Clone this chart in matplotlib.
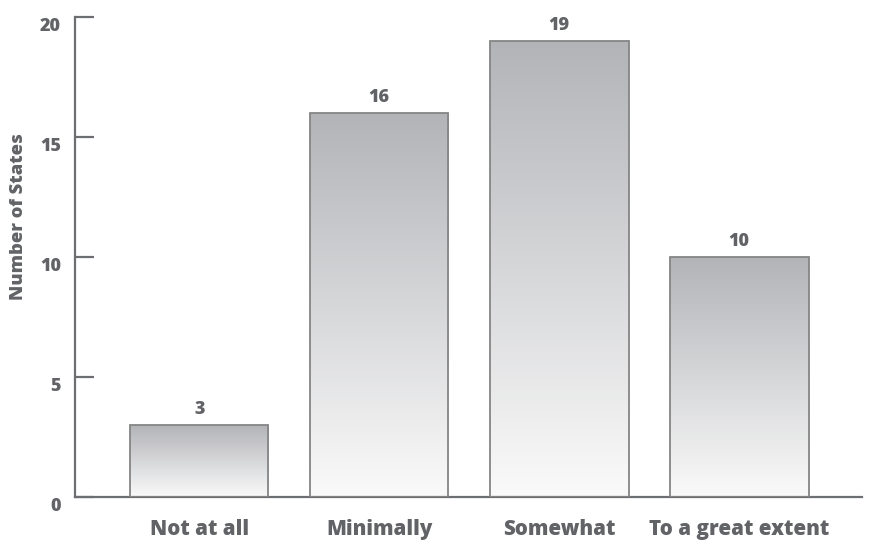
import numpy as np
import matplotlib
matplotlib.use("Agg")
import matplotlib.pyplot as plt
import matplotlib.transforms as mtransforms
from matplotlib.colors import LinearSegmentedColormap

# data
categories = ["Not at all", "Minimally", "Somewhat", "To a great extent"]
values = [3, 16, 19, 10]
y_ticks = [0, 5, 10, 15, 20]

text_color = "#626366"
axis_color = "#6d6e71"
edge_color = "#858585"
font = "Open Sans"
weight = 800
grad = LinearSegmentedColormap.from_list("grey_grad", ["#fafafa", "#b3b4b8"])

fig = plt.figure(figsize=(8.75, 5.42), dpi=100)
ax = fig.add_axes([0.0857, 0.083, 0.899, 0.8856])

x = np.arange(len(categories))
width = 0.77
bars = ax.bar(x, values, width=width, facecolor="none", edgecolor=edge_color,
              linewidth=1.3, zorder=3)

# vertical gradient in each bar, top of bar dark -> bottom light
g = np.linspace(0, 1, 256).reshape(-1, 1)
for b, v in zip(bars, values):
    x0 = b.get_x()
    ax.imshow(g, extent=(x0, x0 + width, 0, v), origin="lower", aspect="auto",
              cmap=grad, zorder=2, interpolation="bicubic")
    ax.text(b.get_x() + width / 2, v + 0.3, str(v), ha="center", va="bottom",
            fontsize=13, fontweight=weight, color=text_color, family=font)

ax.set_xlim(-0.69, 3.68)
ax.set_ylim(0, 20)
ax.set_aspect("auto")

ax.spines["top"].set_visible(False)
ax.spines["right"].set_visible(False)
for s in ["left", "bottom"]:
    ax.spines[s].set_color(axis_color)
    ax.spines[s].set_linewidth(1.6)

ax.set_yticks(y_ticks)
ax.set_yticklabels([str(t) for t in y_ticks])
ax.tick_params(axis="y", direction="in", length=14, width=1.6, color=axis_color,
               labelsize=13, labelcolor=text_color, pad=10)
for lab in ax.get_yticklabels():
    lab.set_fontweight(weight)
    lab.set_family(font)
    lab.set_transform(lab.get_transform() +
                      mtransforms.ScaledTranslation(0, -7 / 100, fig.dpi_scale_trans))

ax.set_xticks(x)
ax.set_xticklabels(categories)
ax.tick_params(axis="x", length=0, labelsize=14.8, labelcolor=text_color, pad=16)
for lab in ax.get_xticklabels():
    lab.set_fontweight(weight)
    lab.set_family(font)

ax.set_ylabel("Number of States", fontsize=13.2, fontweight=weight,
              color=text_color, family=font)
ax.yaxis.set_label_coords(-0.061, 0.585)

fig.savefig("out.png", dpi=100)
